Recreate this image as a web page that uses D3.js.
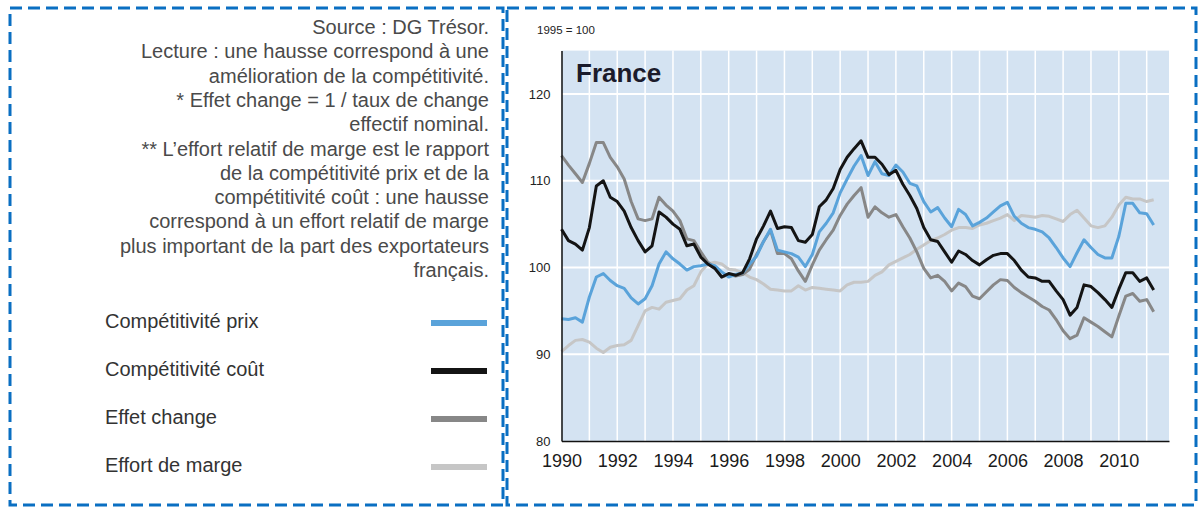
<!DOCTYPE html>
<html lang="fr">
<head>
<meta charset="utf-8">
<script src="https://cdn.jsdelivr.net/npm/d3@7"></script>
<style>
  html, body { margin: 0; padding: 0; background: #fff; }
  svg { display: block; }
</style>
</head>
<body>
<div id="chart"></div>
<script>
// séries trimestrielles, 1990T1 -> 2011T2, base 1995 = 100
const startYear = 1990;

const prix = [
  94.1, 94.0, 94.2, 93.7,  96.6, 98.9, 99.3, 98.5,  97.9, 97.6, 96.5, 95.8,
  96.4, 97.9, 100.4, 101.8,  101.0, 100.4, 99.7, 100.1,  100.2, 100.4, 100.2, 99.5,
  98.9, 99.2, 99.4, 100.4,  101.3, 103.0, 104.4, 102.0,  101.8, 101.6, 101.2, 100.1,
  101.5, 104.1, 105.1, 106.3,  108.6, 110.2, 111.7, 112.9,  110.6, 112.2, 110.8, 110.6,
  111.8, 111.0, 109.7, 109.4,  107.6, 106.4, 106.9, 105.7,  104.7, 106.7, 106.1, 104.8,
  105.2, 105.7, 106.4, 107.1,  107.5, 105.9, 105.1, 104.6,  104.4, 104.1, 103.4, 102.3,
  101.1, 100.1, 101.7, 103.2,  102.3, 101.5, 101.1, 101.1,  103.6, 107.4, 107.4, 106.3,
  106.2, 104.9
];

const cout = [
  104.4, 103.1, 102.7, 102.0,  104.6, 109.4, 110.0, 108.1,  107.6, 106.5, 104.6, 103.1,
  101.8, 102.5, 106.4, 105.8,  105.0, 104.4, 102.5, 102.7,  101.2, 100.4, 99.9, 98.9,
  99.3, 99.1, 99.4, 101.0,  103.3, 104.8, 106.5, 104.5,  104.7, 104.6, 103.1, 102.9,
  103.8, 107.0, 107.8, 109.1,  111.3, 112.7, 113.7, 114.6,  112.7, 112.7, 111.9, 110.7,
  111.2, 109.6, 108.3, 106.8,  104.6, 103.2, 103.0, 101.8,  100.6, 101.9, 101.5, 100.8,
  100.3, 100.9, 101.4, 101.6,  101.6, 100.8, 99.7, 98.9,  98.8, 98.4, 98.4, 97.3,
  96.3, 94.5, 95.4, 98.0,  97.8, 97.1, 96.3, 95.4,  97.5, 99.4, 99.4, 98.4,
  98.8, 97.4
];

const change = [
  112.9, 111.8, 110.8, 109.8,  112.0, 114.4, 114.4, 112.7,  111.6, 110.2, 107.6, 105.6,
  105.4, 105.6, 108.1, 107.2,  106.5, 105.4, 103.3, 103.1,  101.8, 100.6, 100.0, 98.9,
  99.2, 99.0, 99.2, 99.8,  101.5, 103.0, 104.3, 101.6,  101.6, 101.0, 99.6, 98.4,
  100.3, 102.0, 103.2, 104.3,  106.0, 107.3, 108.3, 109.2,  105.8, 107.0, 106.3, 105.8,
  106.1, 104.7, 103.4, 101.8,  99.9, 98.8, 99.1, 98.4,  97.3, 98.2, 97.8, 96.7,
  96.4, 97.2, 98.0, 98.6,  98.5, 97.7, 97.1, 96.6,  96.1, 95.5, 95.1, 94.0,
  92.7, 91.8, 92.2, 94.2,  93.7, 93.2, 92.6, 92.0,  94.4, 96.7, 97.0, 96.1,
  96.3, 94.9
];

const marge = [
  90.3, 91.0, 91.6, 91.7,  91.4, 90.7, 90.2, 90.8,  91.0, 91.1, 91.6, 93.3,
  95.0, 95.4, 95.2, 96.0,  96.2, 96.4, 97.4, 97.9,  99.5, 100.4, 100.6, 100.4,
  99.8, 99.7, 99.4, 98.9,  98.6, 98.1, 97.5, 97.4,  97.3, 97.3, 97.9, 97.4,
  97.7, 97.6, 97.5, 97.4,  97.3, 98.0, 98.3, 98.3,  98.4, 99.1, 99.5, 100.3,
  100.7, 101.1, 101.5, 102.1,  102.6, 103.1, 103.4, 103.8,  104.3, 104.6, 104.6, 104.5,
  104.9, 105.1, 105.4, 105.7,  106.1, 105.4, 106.0, 105.9,  105.8, 106.0, 105.9, 105.6,
  105.3, 106.1, 106.6, 105.7,  104.8, 104.6, 104.8, 105.8,  107.2, 108.1, 107.9, 107.9,
  107.6, 107.8
];

const xTickYears = [1990, 1992, 1994, 1996, 1998, 2000, 2002, 2004, 2006, 2008, 2010];
const yTicks = [80, 90, 100, 110, 120];

const legendLabels = ["Compétitivité prix", "Compétitivité coût", "Effet change", "Effort de marge"];

const notes = [
  "Source : DG Trésor.",
  "Lecture : une hausse correspond à une",
  "amélioration de la compétitivité.",
  "* Effet change = 1 / taux de change",
  "effectif nominal.",
  "** L’effort relatif de marge est le rapport",
  "de la compétitivité prix et de la",
  "compétitivité coût : une hausse",
  "correspond à un effort relatif de marge",
  "plus important de la part des exportateurs",
  "français."
];

document.addEventListener("DOMContentLoaded", function () {
    const W = 1200, H = 508;
    const colors = ["#5aa3da", "#141414", "#878787", "#c6c6c6"];
    const seriesList = [prix, cout, change, marge];

    const svg = d3.select("#chart")
        .append("svg")
        .attr("width", W)
        .attr("height", H);

    // cadres pointillés
    svg.append("rect")
        .attr("x", 10).attr("y", 8)
        .attr("width", 493).attr("height", 497)
        .attr("fill", "none")
        .attr("stroke", "#0a6fc2")
        .attr("stroke-width", 3)
        .attr("stroke-dasharray", "12,6");

    svg.append("rect")
        .attr("x", 507).attr("y", 8)
        .attr("width", 689).attr("height", 497)
        .attr("fill", "none")
        .attr("stroke", "#0a6fc2")
        .attr("stroke-width", 3)
        .attr("stroke-dasharray", "12,6");

    // notes
    svg.append("g")
        .selectAll("text")
        .data(notes)
        .enter()
        .append("text")
        .attr("x", 489)
        .attr("y", (d, i) => 34 + i * 24.3)
        .attr("text-anchor", "end")
        .style("font-family", "'Liberation Sans', Arial, sans-serif")
        .style("font-size", "20px")
        .style("fill", "#4a4a4a")
        .text(d => d);

    // légende
    const legendY = [322, 370, 418, 466];
    const legend = svg.append("g");
    legend.selectAll("text")
        .data(legendLabels)
        .enter()
        .append("text")
        .attr("x", 105)
        .attr("y", (d, i) => legendY[i] + 6)
        .style("font-family", "'Liberation Sans', Arial, sans-serif")
        .style("font-size", "20px")
        .style("fill", "#333")
        .text(d => d);

    legend.selectAll("line")
        .data(legendLabels)
        .enter()
        .append("line")
        .attr("x1", 431).attr("x2", 487)
        .attr("y1", (d, i) => legendY[i] + 1)
        .attr("y2", (d, i) => legendY[i] + 1)
        .attr("stroke", (d, i) => colors[i])
        .attr("stroke-width", 6);

    // graphique
    const x = d3.scaleLinear()
        .domain([1990, 2011.8])
        .range([561.5, 1169]);

    const y = d3.scaleLinear()
        .domain([80, 125])
        .range([441, 50.6]);

    svg.append("rect")
        .attr("x", x(1990)).attr("y", y(125))
        .attr("width", x(2011.8) - x(1990))
        .attr("height", y(80) - y(125))
        .attr("fill", "#d4e3f2");

    svg.append("g")
        .selectAll("line")
        .data(d3.range(1991, 2012))
        .enter()
        .append("line")
        .attr("x1", d => x(d)).attr("x2", d => x(d))
        .attr("y1", y(125)).attr("y2", y(80))
        .attr("stroke", "#fff")
        .attr("stroke-width", 1.5);

    svg.append("g")
        .selectAll("line")
        .data(yTicks.filter(d => d > 80))
        .enter()
        .append("line")
        .attr("x1", x(1990)).attr("x2", x(2011.8))
        .attr("y1", d => y(d)).attr("y2", d => y(d))
        .attr("stroke", "#fff")
        .attr("stroke-width", 2);

    const line = d3.line()
        .x((d, i) => x(startYear + i / 4))
        .y(d => y(d));

    [3, 2, 0, 1].forEach(k => {
        svg.append("path")
            .datum(seriesList[k])
            .attr("d", line)
            .attr("fill", "none")
            .attr("stroke", colors[k])
            .attr("stroke-width", 3)
            .attr("stroke-linejoin", "round");
    });

    // axes
    svg.append("g")
        .attr("transform", `translate(0,${y(80)})`)
        .call(d3.axisBottom(x).tickValues(xTickYears).tickFormat(d3.format("d")).tickSize(0).tickPadding(13))
        .call(g => g.select(".domain").attr("stroke", "#111").attr("stroke-width", 1.5))
        .selectAll("text")
        .style("font-family", "'Liberation Sans Narrow', 'Liberation Sans', Arial, sans-serif")
        .style("font-size", "18px")
        .style("fill", "#1a1a1a");

    svg.append("g")
        .attr("transform", `translate(${x(1990)},0)`)
        .call(d3.axisLeft(y).tickValues(yTicks).tickFormat(d3.format("d")).tickSize(0).tickPadding(11))
        .call(g => g.select(".domain").attr("stroke", "#111").attr("stroke-width", 1.5))
        .selectAll("text")
        .style("font-family", "'Liberation Sans', Arial, sans-serif")
        .style("font-size", "13px")
        .style("fill", "#222");

    svg.append("text")
        .attr("x", 537).attr("y", 34)
        .style("font-family", "'Liberation Sans', Arial, sans-serif")
        .style("font-size", "11.5px")
        .style("fill", "#222")
        .text("1995 = 100");

    svg.append("text")
        .attr("x", 576).attr("y", 82)
        .style("font-family", "'Liberation Sans', Arial, sans-serif")
        .style("font-size", "26px")
        .style("font-weight", "bold")
        .style("fill", "#1b1b2b")
        .text("France");
});
</script>
</body>
</html>
